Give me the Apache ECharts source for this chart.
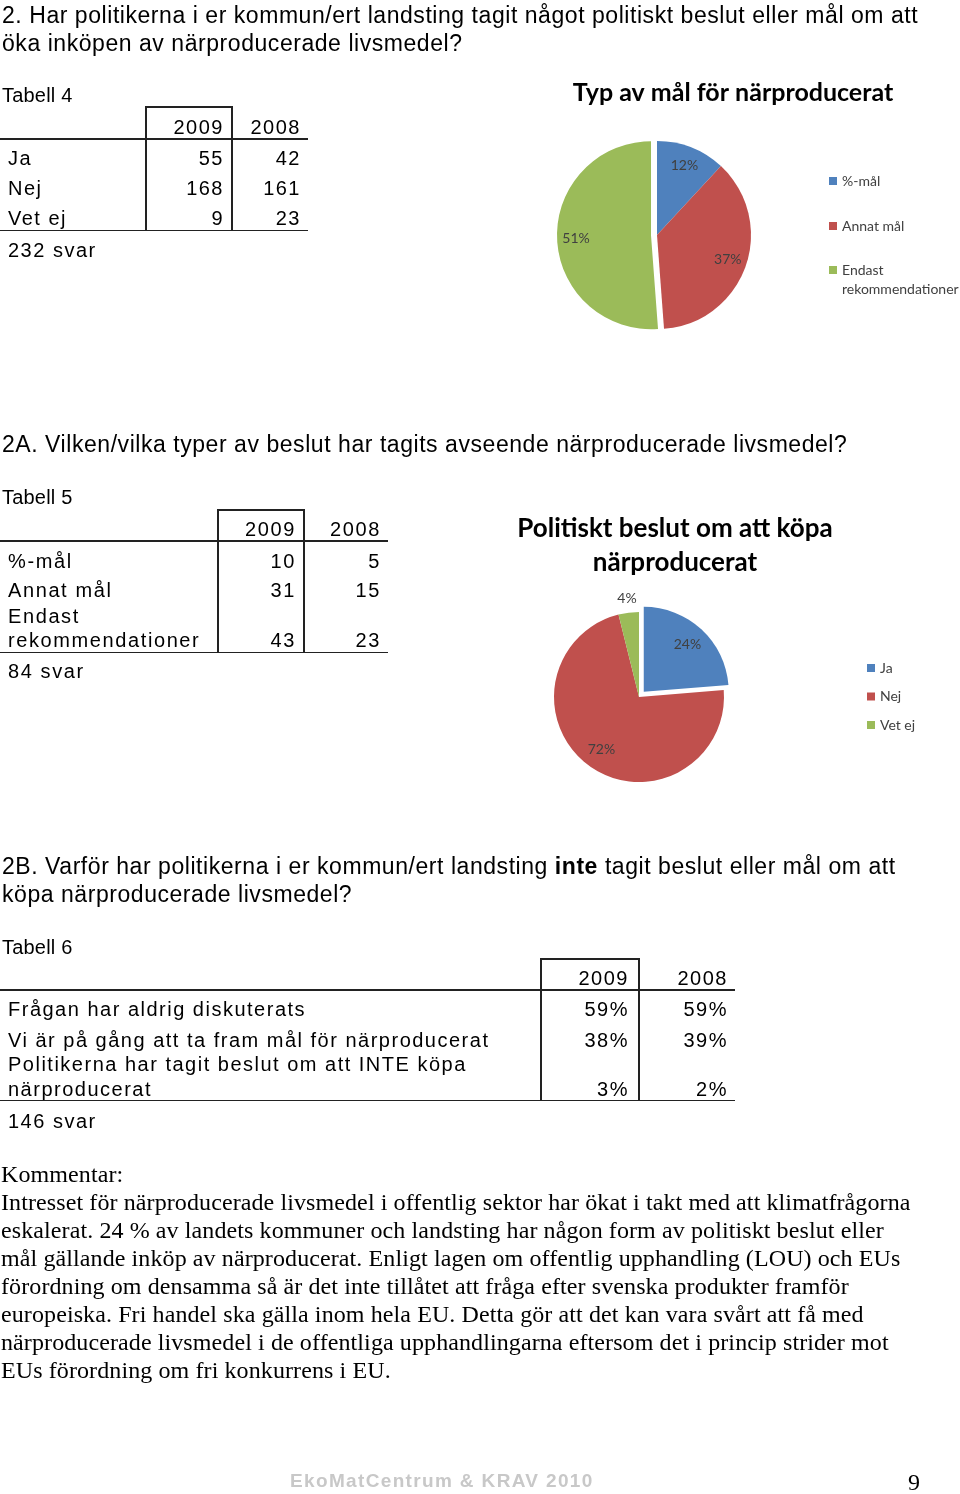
<!DOCTYPE html>
<html>
<head>
<meta charset="utf-8">
<script src="https://cdn.jsdelivr.net/npm/echarts@6/dist/echarts.min.js"></script>
<style>
html,body{margin:0;padding:0;background:#fff;}
#page{position:relative;width:960px;height:1494px;overflow:hidden;background:#fff;}
#chart{position:absolute;left:0;top:0;width:960px;height:1494px;}
.t{position:absolute;white-space:nowrap;font-family:"Liberation Sans",Arial,sans-serif;color:#000;pointer-events:none;}
.r{text-align:right;}
.ln{position:absolute;background:#222;}
</style>
</head>
<body>
<div id="page"><div id="chart"></div></div>
<script>
// ---------- data ----------
const years = ['2009', '2008'];

const t4Categories = ['Ja', 'Nej', 'Vet ej'];
const t4Values2009 = [55, 168, 9];
const t4Values2008 = [42, 161, 23];
const t4Total = '232 svar';

const t5Categories = ['%-mål', 'Annat mål', 'Endast\nrekommendationer'];
const t5Values2009 = [10, 31, 43];
const t5Values2008 = [5, 15, 23];
const t5Total = '84 svar';

const t6Categories = ['Frågan har aldrig diskuterats', 'Vi är på gång att ta fram mål för närproducerat', 'Politikerna har tagit beslut om att INTE köpa\nnärproducerat'];
const t6Values2009 = ['59%', '38%', '3%'];
const t6Values2008 = ['59%', '39%', '2%'];
const t6Total = '146 svar';

const pie1Title = 'Typ av mål för närproducerat';
const pie2Title = 'Politiskt beslut om att köpa\nnärproducerat';

const heading1 = ['2. Har politikerna i er kommun/ert landsting tagit något politiskt beslut eller mål om att', 'öka inköpen av närproducerade livsmedel?'];
const heading2 = ['2A. Vilken/vilka typer av beslut har tagits avseende närproducerade livsmedel?'];
const heading3 = ['2B. Varför har politikerna i er kommun/ert landsting <b>inte</b> tagit beslut eller mål om att', 'köpa närproducerade livsmedel?'];
const commentTitle = 'Kommentar:';
const commentLines = [
  'Intresset för närproducerade livsmedel i offentlig sektor har ökat i takt med att klimatfrågorna',
  'eskalerat. 24 % av landets kommuner och landsting har någon form av politiskt beslut eller',
  'mål gällande inköp av närproducerat. Enligt lagen om offentlig upphandling (LOU) och EUs',
  'förordning om densamma så är det inte tillåtet att fråga efter svenska produkter framför',
  'europeiska. Fri handel ska gälla inom hela EU. Detta gör att det kan vara svårt att få med',
  'närproducerade livsmedel i de offentliga upphandlingarna eftersom det i princip strider mot',
  'EUs förordning om fri konkurrens i EU.'
];
const footerText = 'EkoMatCentrum &amp; KRAV 2010';
const pageNumber = '9';

// ---------- page text ----------
const page = document.getElementById('page');
function txt(html, x, yc, o) {
  o = o || {};
  const fs = o.fs || 22;
  const d = document.createElement('div');
  d.className = 't' + (o.right ? ' r' : '');
  d.innerHTML = html;
  d.style.fontSize = fs + 'px';
  d.style.lineHeight = fs + 'px';
  d.style.top = (yc - fs / 2) + 'px';
  if (o.right) d.style.right = (960 - x) + 'px'; else d.style.left = x + 'px';
  if (o.ls !== undefined) d.style.letterSpacing = o.ls + 'px';
  if (o.family) d.style.fontFamily = o.family;
  if (o.color) d.style.color = o.color;
  if (o.weight) d.style.fontWeight = o.weight;
  page.appendChild(d);
}
function hline(x1, x2, y) {
  const d = document.createElement('div');
  d.className = 'ln';
  d.style.left = x1 + 'px'; d.style.width = (x2 - x1) + 'px';
  d.style.top = y + 'px'; d.style.height = '1.5px';
  page.appendChild(d);
}
function vline(x, y1, y2) {
  const d = document.createElement('div');
  d.className = 'ln';
  d.style.left = x + 'px'; d.style.width = '1.5px';
  d.style.top = y1 + 'px'; d.style.height = (y2 - y1) + 'px';
  page.appendChild(d);
}

const HS = 23, HLS = 0.55;
heading1.forEach((s, i) => txt(s, 2, 15 + i * 28, {fs: HS, ls: HLS}));
heading2.forEach((s, i) => txt(s, 2, 444 + i * 28, {fs: HS, ls: HLS}));
heading3.forEach((s, i) => txt(s, 2, 866 + i * 28, {fs: HS, ls: HLS}));

// table builder
function table(cfg) {
  txt(cfg.caption, 2, cfg.capY, {fs: 20, ls: 0.2});
  hline(cfg.boxL, cfg.boxR, cfg.boxTop);
  vline(cfg.boxL, cfg.boxTop, cfg.bottom);
  vline(cfg.boxR, cfg.boxTop, cfg.bottom);
  hline(0, cfg.right, cfg.headLine);
  hline(0, cfg.right, cfg.bottom);
  txt(years[0], cfg.c1, cfg.headY, {fs: cfg.fs, ls: cfg.ls, right: true});
  txt(years[1], cfg.c2, cfg.headY, {fs: cfg.fs, ls: cfg.ls, right: true});
  cfg.cats.forEach((c, i) => {
    const lines = c.split('\n');
    const ys = cfg.rowY[i];
    lines.forEach((l, j) => txt(l, 8, ys[j], {fs: cfg.fs, ls: cfg.ls}));
    const yv = ys[ys.length - 1];
    txt(String(cfg.v1[i]), cfg.c1, yv, {fs: cfg.fs, ls: cfg.ls, right: true});
    txt(String(cfg.v2[i]), cfg.c2, yv, {fs: cfg.fs, ls: cfg.ls, right: true});
  });
  txt(cfg.total, 8, cfg.totalY, {fs: cfg.fs, ls: cfg.ls});
}
table({caption: 'Tabell 4', capY: 95, boxL: 145, boxR: 231, boxTop: 106, headLine: 138, bottom: 229.5, right: 308,
  headY: 127, c1: 224, c2: 301, cats: t4Categories, v1: t4Values2009, v2: t4Values2008,
  rowY: [[158], [188], [218]], total: t4Total, totalY: 250, fs: 20, ls: 1.5});
table({caption: 'Tabell 5', capY: 497, boxL: 217, boxR: 303, boxTop: 509, headLine: 540, bottom: 651.5, right: 388,
  headY: 529, c1: 296, c2: 381, cats: t5Categories, v1: t5Values2009, v2: t5Values2008,
  rowY: [[561], [590], [616, 640]], total: t5Total, totalY: 671, fs: 20, ls: 1.6});
table({caption: 'Tabell 6', capY: 947, boxL: 540, boxR: 638, boxTop: 958, headLine: 989, bottom: 1099.5, right: 735,
  headY: 978, c1: 629, c2: 728, cats: t6Categories, v1: t6Values2009, v2: t6Values2008,
  rowY: [[1009], [1040], [1064, 1089]], total: t6Total, totalY: 1121, fs: 20, ls: 1.5});

const SER = '"Liberation Serif","Times New Roman",serif';
txt(commentTitle, 1, 1174, {fs: 24, family: SER, ls: 0.1});
commentLines.forEach((s, i) => txt(s, 1, 1202 + i * 28, {fs: 24, family: SER, ls: 0.1}));
txt(footerText, 290, 1480, {fs: 19, weight: 'bold', color: '#c8c8c8', ls: 1.35});
txt(pageNumber, 908, 1482, {fs: 24, family: SER});

// ---------- charts ----------
const pieColors = ['#4F81BD', '#C0504D', '#9BBB59'];
const chart = echarts.init(document.getElementById('chart'), null, {renderer: 'canvas'});

function pieData(cats, vals, selIdx, extra) {
  return cats.map((c, i) => Object.assign({
    name: c, value: vals[i], selected: i === selIdx,
    itemStyle: {color: pieColors[i]}
  }, extra ? extra(i) : {}));
}

const labelFont = {fontFamily: 'Lato', fontSize: 14, color: '#404040'};
const legendText = {fontFamily: 'Lato', fontSize: 14, color: '#404040', lineHeight: 16};

function labelLayer(name, center, radius, cats, vals, selIdx, offset, showIdx) {
  return {type: 'pie', name: name, center: center, radius: radius, startAngle: 90, clockwise: true,
    selectedMode: 'single', selectedOffset: offset, silent: true, legendHoverLink: false,
    percentPrecision: 0, avoidLabelOverlap: false, emphasis: {disabled: true},
    label: Object.assign({show: true, position: 'inside', formatter: '{d}%'}, labelFont),
    labelLine: {show: false},
    data: pieData(cats, vals, selIdx, (i) => ({
      itemStyle: {color: 'transparent'},
      label: {show: showIdx.indexOf(i) >= 0}
    }))};
}

const option = {
  animation: false,
  title: [
    {text: pie1Title, left: 728, top: 74, textAlign: 'center',
     textStyle: {fontFamily: 'Lato', fontWeight: 'bold', fontSize: 25, color: '#000', lineHeight: 28}},
    {text: pie2Title, left: 670, top: 507, textAlign: 'center',
     textStyle: {fontFamily: 'Lato', fontWeight: 'bold', fontSize: 26, color: '#000', lineHeight: 34}}
  ],
  legend: [
    {orient: 'vertical', left: 829, top: 173, padding: 0, itemWidth: 8, itemHeight: 8, itemGap: 29,
     icon: 'rect', data: t5Categories.slice(0, 2), selectedMode: false, textStyle: legendText},
    {orient: 'vertical', left: 829, top: 241.5, padding: 0, itemWidth: 8, itemHeight: 8,
     icon: 'rect', data: t5Categories.slice(2), selectedMode: false,
     formatter: (name) => '\n' + name,
     textStyle: Object.assign({}, legendText, {lineHeight: 19})},
    {orient: 'vertical', left: 867, top: 660, padding: 0, itemWidth: 8, itemHeight: 8, itemGap: 12.5,
     icon: 'rect', data: t4Categories, selectedMode: false, textStyle: legendText}
  ],
  series: [
    {type: 'pie', name: 'p1', center: [657, 235], radius: 94, startAngle: 90, clockwise: true,
     selectedMode: 'single', selectedOffset: 6, label: {show: false}, labelLine: {show: false},
     emphasis: {disabled: true}, itemStyle: {borderWidth: 0},
     data: pieData(t5Categories, t5Values2009, 2)},
    {type: 'pie', name: 'p2', center: [639, 697], radius: 85, startAngle: 90, clockwise: true,
     selectedMode: 'single', selectedOffset: 7, label: {show: false}, labelLine: {show: false},
     emphasis: {disabled: true}, itemStyle: {borderWidth: 0},
     data: pieData(t4Categories, t4Values2009, 0)},
    // label layers (transparent rings that only carry the percentage labels)
    labelLayer('p1l', [657, 235], [50, 94], t5Categories, t5Values2009, 2, 6, [0, 1, 2]),
    labelLayer('p2l', [639, 697], [38, 85], t4Categories, t4Values2009, 0, 7, [0, 1]),
    labelLayer('p2o', [639, 697], [86, 106], t4Categories, t4Values2009, 0, 7, [2])
  ]
};
chart.setOption(option);
</script>
</body>
</html>
